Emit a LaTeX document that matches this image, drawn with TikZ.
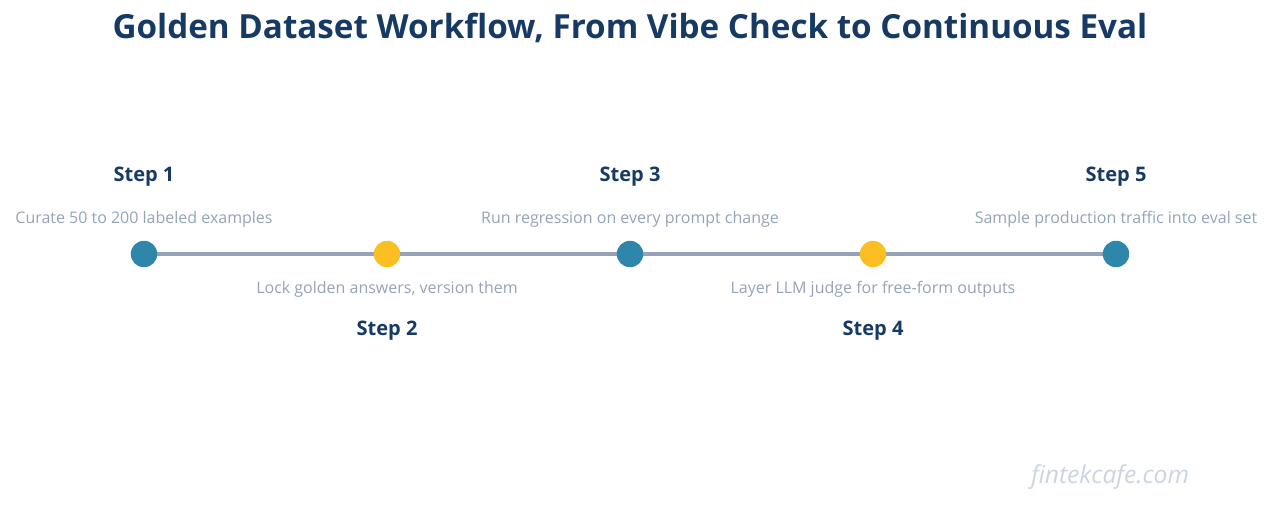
\documentclass[tikz,border=0pt]{standalone}
\usepackage{fontspec}
\setmainfont{Open Sans}
\usetikzlibrary{positioning, backgrounds}
\definecolor{navy}{HTML}{163A63}
\definecolor{teal}{HTML}{2E86AB}
\definecolor{gold}{HTML}{FBBF24}
\definecolor{rail}{HTML}{94A3B8}
\definecolor{desc}{HTML}{94A3B8}
\definecolor{mark}{HTML}{CBD5E1}
\begin{document}
\begin{tikzpicture}[x=0.02cm, y=-0.02cm,
    dot/.style={circle, minimum size=0.53cm, inner sep=0pt},
    steplabel/.style={font=\fontsize{11.4}{13}\selectfont\bfseries, text=navy},
    desclabel/.style={font=\fontsize{9.1}{11}\selectfont, text=desc},
    link/.style={draw=rail, line width=2.3pt}
]
\useasboundingbox (0,0) rectangle (1271,504);

% Title
\node[font=\fontsize{18.9}{22}\selectfont\bfseries, text=navy] (title) at (630,28)
    {Golden Dataset Workflow, From Vibe Check to Continuous Eval};

% Milestones
\node[dot, fill=teal] (s1) at (144,254) {};
\node[dot, fill=gold] (s2) at (387,254) {};
\node[dot, fill=teal] (s3) at (630,254) {};
\node[dot, fill=gold] (s4) at (873,254) {};
\node[dot, fill=teal] (s5) at (1116,254) {};

% Rail
\begin{pgfonlayer}{background}
\foreach \a/\b in {s1/s2, s2/s3, s3/s4, s4/s5}
    \draw[link] (\a.center) -- (\b.center);
\end{pgfonlayer}

% Labels above
\node[steplabel] (t1) at (144,177) {Step 1};
\node[desclabel] (d1) at (144,219) {Curate 50 to 200 labeled examples};
\node[steplabel] (t3) at (630,177) {Step 3};
\node[desclabel] (d3) at (630,219) {Run regression on every prompt change};
\node[steplabel] (t5) at (1116,177) {Step 5};
\node[desclabel] (d5) at (1116,219) {Sample production traffic into eval set};

% Labels below
\node[desclabel] (d2) at (387,289) {Lock golden answers, version them};
\node[steplabel] (t2) at (387,331) {Step 2};
\node[desclabel] (d4) at (873,289) {Layer LLM judge for free-form outputs};
\node[steplabel] (t4) at (873,331) {Step 4};

% Watermark
\node[font=\fontsize{14}{17}\selectfont\itshape, text=mark] (wm) at (1110,477) {fintekcafe.com};
\end{tikzpicture}
\end{document}
